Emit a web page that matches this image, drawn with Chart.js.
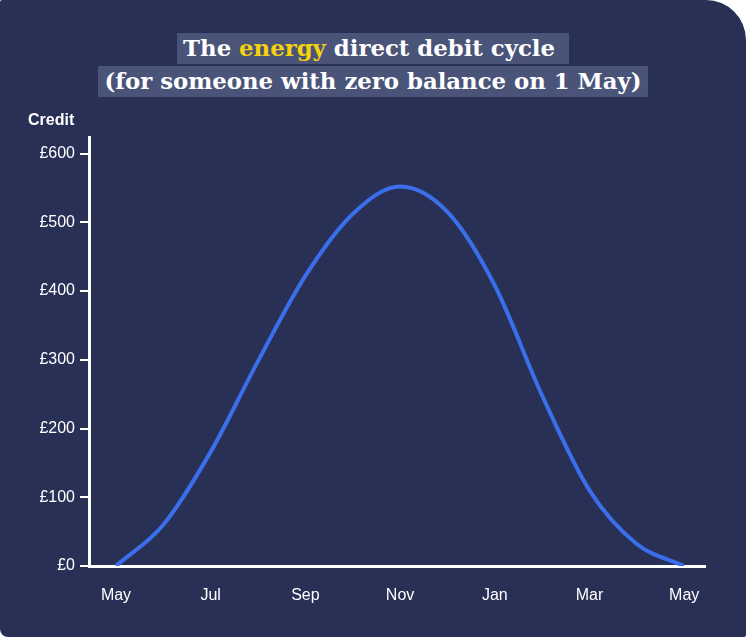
<!DOCTYPE html>
<html>
<head>
<meta charset="utf-8">
<script src="https://cdn.jsdelivr.net/npm/chart.js@4/dist/chart.umd.min.js"></script>
<style>
    html, body { margin: 0; padding: 0; background: #ffffff; }
    .card {
        position: relative;
        width: 746px;
        height: 637px;
        background: #283155;
        border-radius: 2px 40px 2px 8px;
        overflow: hidden;
    }
    .title {
        position: absolute;
        left: 0;
        top: 32px;
        width: 746px;
        text-align: center;
        font-family: "DejaVu Serif", serif;
        font-weight: bold;
        font-size: 22.8px;
        color: #ffffff;
        line-height: 33px;
    }
    .title span.hl {
        background: #4a5479;
        padding: 2px 6px 3px 6px;
        white-space: pre;
    }
    .title .energy { color: #f6d20c; }
    .credit {
        position: absolute;
        left: 28px;
        top: 111px;
        font-family: "Liberation Sans", Arial, sans-serif;
        font-weight: bold;
        font-size: 16px;
        color: #ffffff;
    }
    #chart { position: absolute; left: 0; top: 0; }
</style>
</head>
<body>
<div class="card">
    <canvas id="chart" width="746" height="637"></canvas>
    <div class="title">
        <div><span class="hl">The <span class="energy">energy</span> direct debit cycle </span></div>
        <div><span class="hl">(for someone with zero balance on 1 May)</span></div>
    </div>
    <div class="credit">Credit</div>
</div>
<script>
const months = ['May', 'Jun', 'Jul', 'Aug', 'Sep', 'Oct', 'Nov', 'Dec', 'Jan', 'Feb', 'Mar', 'Apr', 'May'];
const credit = [0, 60, 166, 298, 422, 512, 552, 515, 408, 248, 110, 32, 0];
const xTickMonths = [0, 2, 4, 6, 8, 10, 12];
const yTicks = [0, 100, 200, 300, 400, 500, 600];

const points = credit.map((v, i) => ({ x: i, y: v }));

const chartCtx = document.getElementById('chart').getContext('2d');
const tickFont = { family: '"Liberation Sans", Arial, sans-serif', size: 16 };

new Chart(chartCtx, {
    type: 'line',
    data: {
        datasets: [{
            label: 'Credit',
            data: points,
            borderColor: '#3a6eea',
            borderWidth: 4,
            borderCapStyle: 'butt',
            pointRadius: 0,
            fill: false,
            cubicInterpolationMode: 'monotone'
        }]
    },
    options: {
        responsive: false,
        animation: false,
        layout: {
            padding: { top: 137, left: 0, right: 41, bottom: 0 }
        },
        plugins: {
            legend: { display: false },
            tooltip: { enabled: false }
        },
        scales: {
            x: {
                type: 'linear',
                min: -0.57,
                max: 12.44,
                afterBuildTicks: scale => {
                    scale.ticks = xTickMonths.map(v => ({ value: v }));
                },
                afterFit: scale => { scale.height = 71; },
                grid: { display: false },
                border: { display: true, color: '#ffffff', width: 3 },
                ticks: {
                    padding: 12,
                    color: '#ffffff',
                    font: tickFont,
                    callback: v => months[v]
                }
            },
            y: {
                min: 0,
                max: 624,
                afterBuildTicks: scale => {
                    scale.ticks = yTicks.map(v => ({ value: v }));
                },
                afterFit: scale => { scale.width = 89; },
                grid: {
                    display: true,
                    drawOnChartArea: false,
                    drawTicks: true,
                    tickLength: 9,
                    lineWidth: 2,
                    color: '#ffffff'
                },
                border: { display: true, color: '#ffffff', width: 3 },
                ticks: {
                    padding: 5,
                    color: '#ffffff',
                    font: tickFont,
                    callback: v => '£' + v
                }
            }
        }
    }
});
</script>
</body>
</html>
